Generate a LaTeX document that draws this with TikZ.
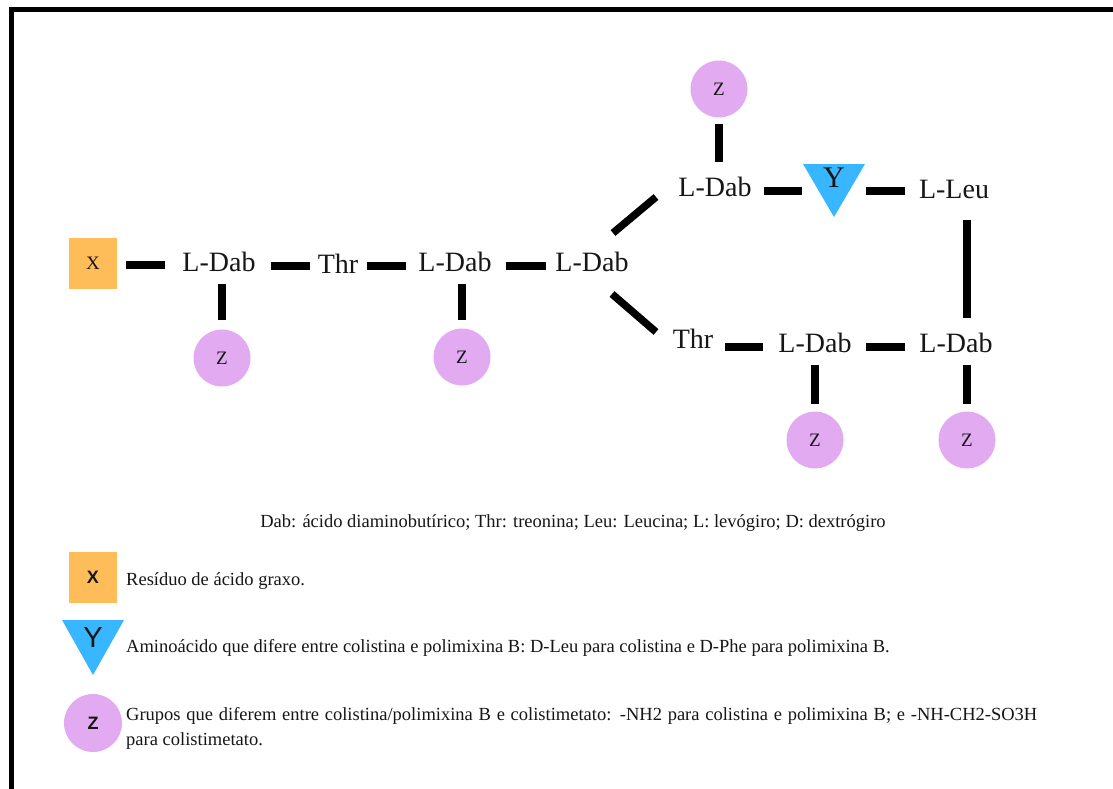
\documentclass[tikz,border=0pt]{standalone}
\usepackage{fontspec}
\setmainfont{Liberation Serif}
\newfontfamily\legsans{Liberation Sans}
\usetikzlibrary{calc}

\definecolor{xorange}{RGB}{255,189,89}
\definecolor{yblue}{RGB}{56,182,255}
\definecolor{zpurple}{RGB}{226,170,240}
\definecolor{ink}{RGB}{22,22,22}

\begin{document}
\begin{tikzpicture}[x=1pt,y=-1pt,
  res/.style={inner sep=0pt, text=ink, font=\fontsize{28}{30}\selectfont},
  bond/.style={line width=7.5pt, draw=black},
  zgrp/.style={circle, fill=zpurple, minimum size=57pt, inner sep=0pt, text=ink,
    font=\fontsize{19}{20}\selectfont},
  xgrp/.style={rectangle, fill=xorange, minimum width=48pt, minimum height=51pt,
    inner sep=0pt, text=ink, font=\fontsize{19}{20}\selectfont},
  ylab/.style={inner sep=0pt, minimum width=62pt, text=ink, font=\fontsize{30}{32}\selectfont},
  legtext/.style={inner sep=0pt, text=ink, font=\fontsize{18.5}{22}\selectfont},
]
\useasboundingbox (0,0) rectangle (1113,789);
\clip (0,0) rectangle (1113,789);
\fill[white] (0,0) rectangle (1113,789);
% outer frame (continues past the right and bottom edges)
\draw[line width=5pt] (11.5,10) rectangle (1150,830);

% ---------- peptide chain ----------
\node[xgrp] (x1) at (93,263) {X};
\node[res] (l1) at (219,262) {L-Dab};
\node[res] (t1) at (338,264) {Thr};
\node[res] (l2) at (455,262) {L-Dab};
\node[res] (l3) at (592,262) {L-Dab};
\node[res] (l4) at (715,187) {L-Dab};
\coordinate (yc) at (834,178);
\fill[yblue] ($(yc)+(-31,-14)$) -- ($(yc)+(31,-14)$) -- ($(yc)+(0,39)$) -- cycle;
\node[ylab] (y) at (yc) {Y};
\node[res] (ll) at (954,189) {L-Leu};
\node[res] (t2) at (693,339) {Thr};
\node[res] (l5) at (815,343) {L-Dab};
\node[res] (l6) at (956,343) {L-Dab};

% side groups Z
\node[zgrp] (z1) at (222,358) {Z};
\node[zgrp] (z2) at (462,357) {Z};
\node[zgrp] (z4) at (719,89) {Z};
\node[zgrp] (z5) at (815,440) {Z};
\node[zgrp] (z6) at (967,440) {Z};

% ---------- bonds ----------
\draw[bond, shorten <=9pt, shorten >=17pt] ([yshift=-2pt]x1.east) -- ([yshift=-2pt]x1.east -| l1.west);
\draw[bond, shorten <=15pt, shorten >=8pt] ([yshift=-4pt]l1.east) -- ([yshift=-4pt]l1.east -| t1.west);
\draw[bond, shorten <=9pt, shorten >=12pt] ([yshift=-2pt]t1.east) -- ([yshift=-2pt]t1.east -| l2.west);
\draw[bond, shorten <=14pt, shorten >=9pt] ([yshift=-4pt]l2.east) -- ([yshift=-4pt]l2.east -| l3.west);
\draw[bond] ($(l3)+(21,-29)$) -- ($(l4)+(-59,10)$);
\draw[bond] ($(l3)+(20,32)$) -- ($(t2)+(-37,-7)$);
\draw[bond, shorten <=12pt, shorten >=1pt] ([yshift=-4pt]l4.east) -- ([yshift=-4pt]l4.east -| y.west);
\draw[bond, shorten <=1pt, shorten >=14pt] ([yshift=-4pt]l4.east -| y.east) -- ([yshift=-4pt]l4.east -| ll.west);
\draw[bond, shorten <=12pt, shorten >=15pt] ([yshift=-4pt]l5.west -| t2.east) -- ([yshift=-4pt]l5.west);
\draw[bond, shorten <=14pt, shorten >=14pt] ([yshift=-4pt]l5.east) -- ([yshift=-4pt]l5.east -| l6.west);
\draw[bond, shorten <=21pt, shorten >=15pt] (z6.north |- ll.south) -- (z6.north |- l6.north);
\draw[bond, shorten <=12pt, shorten >=9pt] (z1.north |- l1.south) -- (z1.north);
\draw[bond, shorten <=12pt, shorten >=8pt] (z2.north |- l2.south) -- (z2.north);
\draw[bond, shorten <=6pt, shorten >=15pt] (z4.south) -- (z4.south |- l4.north);
\draw[bond, shorten <=12pt, shorten >=7pt] (z5.north |- l5.south) -- (z5.north);
\draw[bond, shorten <=12pt, shorten >=7pt] (z6.north |- l6.south) -- (z6.north);

% ---------- legend ----------
\node[legtext, anchor=base] (abbr) at (573,527)
  {Dab: ácido diaminobutírico; Thr: treonina; Leu: Leucina; L: levógiro; D: dextrógiro};

\node[xgrp, font=\legsans\bfseries\fontsize{18}{20}\selectfont] (kx) at (93,577) {X};
\node[legtext, anchor=base west] (kxt) at (126,585) {Resíduo de ácido graxo.};

\coordinate (ky) at (93,638);
\fill[yblue] ($(ky)+(-31,-18)$) -- ($(ky)+(31,-18)$) -- ($(ky)+(0,37)$) -- cycle;
\node[inner sep=0pt, text=ink, font=\legsans\fontsize{29}{30}\selectfont] (kyl) at (ky) {Y};
\node[legtext, anchor=base west] (kyt) at (126,652)
  {Aminoácido que difere entre colistina e polimixina B: D-Leu para colistina e D-Phe para polimixina B.};

\node[zgrp, minimum size=58pt, font=\legsans\bfseries\fontsize{18}{20}\selectfont] (kz) at (93,723) {Z};
\node[legtext, anchor=base west] (kzt) at (126,720)
  {\makebox[911pt][s]{Grupos que diferem entre colistina/polimixina B e colistimetato: -NH2 para colistina e polimixina B; e -NH-CH2-SO3H}};
\node[legtext, anchor=base west] (kzt2) at ($(kzt.base west)+(0,25)$) {para colistimetato.};
\end{tikzpicture}
\end{document}
